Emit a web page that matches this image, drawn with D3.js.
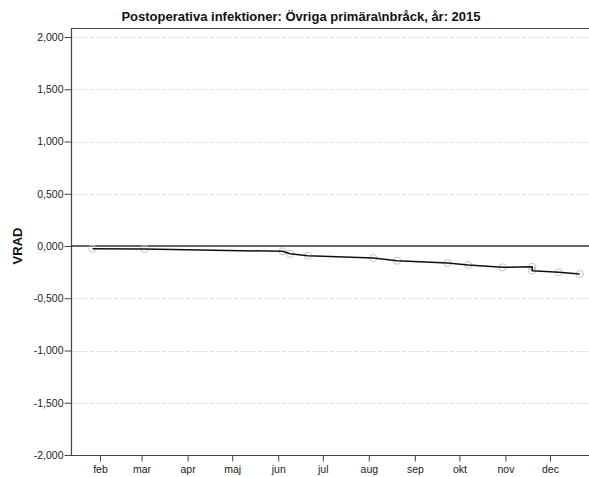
<!DOCTYPE html>
<html>
<head>
<meta charset="utf-8">
<script src="https://cdn.jsdelivr.net/npm/d3@7"></script>
<style>
  html, body { margin: 0; padding: 0; background: #fff; }
  svg { display: block; }
</style>
</head>
<body>
<svg id="chart" width="589" height="477"></svg>
<script>
// ---- data ----
const title = "Postoperativa infektioner: Övriga primära\\nbråck, år: 2015";
const yLabel = "VRAD";
const dates = ["2015-01-27","2015-03-03","2015-06-04","2015-06-09","2015-06-21","2015-08-04",
               "2015-08-20","2015-09-23","2015-10-07","2015-10-30","2015-11-19","2015-11-19",
               "2015-12-07","2015-12-21"];
const values = [-0.027, -0.029, -0.051, -0.074, -0.093, -0.115,
                -0.141, -0.163, -0.182, -0.204, -0.198, -0.236,
                -0.252, -0.268];
const monthTicks = ["2015-02-01","2015-03-01","2015-04-01","2015-05-01","2015-06-01","2015-07-01",
                    "2015-08-01","2015-09-01","2015-10-01","2015-11-01","2015-12-01"];
const monthLabels = ["feb","mar","apr","maj","jun","jul","aug","sep","okt","nov","dec"];
const yTicks = [2, 1.5, 1, 0.5, 0, -0.5, -1, -1.5, -2];

// ---- layout ----
(function () {
const svg = d3.select("#chart");
const mLeft = 71, mRight = 589, mTop = 28, mBottom = 455;
const parse = d3.utcParse("%Y-%m-%d");

const x = d3.scaleUtc()
  .domain([parse("2015-02-01"), parse("2015-12-01")])
  .range([100, 550]);
const y = d3.scaleLinear().domain([-2, 2]).range([mBottom, 37]);

const yFmt = v => {
  const s = Math.abs(v).toFixed(3).replace(".", ",");
  return (v < 0 ? "-" : "") + s;
};

// gridlines
svg.append("g").selectAll("line").data(yTicks.filter(t => t !== 0 && t !== -2)).join("line")
  .attr("x1", mLeft + 1).attr("x2", mRight)
  .attr("y1", d => Math.round(y(d)) + 0.5).attr("y2", d => Math.round(y(d)) + 0.5)
  .attr("stroke", "#e0e0e0").attr("stroke-width", 1).attr("stroke-dasharray", "4,2");

// frame
svg.append("line").attr("x1", mLeft + 0.5).attr("x2", mLeft + 0.5).attr("y1", mTop).attr("y2", mBottom + 1)
  .attr("stroke", "#444").attr("stroke-width", 1.2);
svg.append("line").attr("x1", mLeft).attr("x2", mRight).attr("y1", mTop + 0.5).attr("y2", mTop + 0.5)
  .attr("stroke", "#444").attr("stroke-width", 1.2);
svg.append("line").attr("x1", mLeft).attr("x2", mRight).attr("y1", mBottom + 0.5).attr("y2", mBottom + 0.5)
  .attr("stroke", "#444").attr("stroke-width", 1.2);

// y axis
const yAxis = d3.axisLeft(y).tickValues(yTicks).tickFormat(yFmt).tickSize(7).tickPadding(1);
const gy = svg.append("g").attr("transform", `translate(${mLeft + 0.5},0)`).call(yAxis);
gy.select(".domain").remove();
gy.selectAll(".tick line").attr("stroke", "#444");
gy.selectAll("text").attr("font-family", "Liberation Sans, Arial, sans-serif")
  .attr("font-size", 10.5).attr("fill", "#222");

// x axis
const xAxis = d3.axisBottom(x).tickValues(monthTicks.map(parse))
  .tickFormat((d, i) => monthLabels[i]).tickSize(6).tickPadding(4);
const gx = svg.append("g").attr("transform", `translate(0,${mBottom + 0.5})`).call(xAxis);
gx.select(".domain").remove();
gx.selectAll(".tick line").attr("stroke", "#444");
gx.selectAll("text").attr("font-family", "Liberation Sans, Arial, sans-serif")
  .attr("font-size", 10.5).attr("fill", "#222");

// zero reference line
svg.append("line").attr("x1", mLeft).attr("x2", mRight)
  .attr("y1", y(0)).attr("y2", y(0))
  .attr("stroke", "#333").attr("stroke-width", 1.3);

// data
const data = dates.map((d, i) => ({ d: parse(d), v: values[i] }));

svg.append("g").selectAll("circle").data(data).join("circle")
  .attr("cx", p => x(p.d)).attr("cy", p => y(p.v)).attr("r", 3.6)
  .attr("fill", "none").attr("stroke", "#c4c4c4").attr("stroke-width", 1);

const line = d3.line().x(p => x(p.d)).y(p => y(p.v)).curve(d3.curveLinear);
svg.append("path").datum(data).attr("d", line)
  .attr("fill", "none").attr("stroke", "#111").attr("stroke-width", 1.5)
  .attr("stroke-linejoin", "round");

// title
svg.append("text").attr("x", 301).attr("y", 21).attr("text-anchor", "middle")
  .attr("font-family", "Liberation Sans, Arial, sans-serif").attr("font-weight", "bold")
  .attr("font-size", 13).attr("fill", "#111").text(title);

// y label
svg.append("text").attr("transform", `translate(22,${y(0)}) rotate(-90)`)
  .attr("text-anchor", "middle")
  .attr("font-family", "Liberation Sans, Arial, sans-serif").attr("font-weight", "bold")
  .attr("font-size", 13).attr("fill", "#111").text(yLabel);
})();
</script>
</body>
</html>
